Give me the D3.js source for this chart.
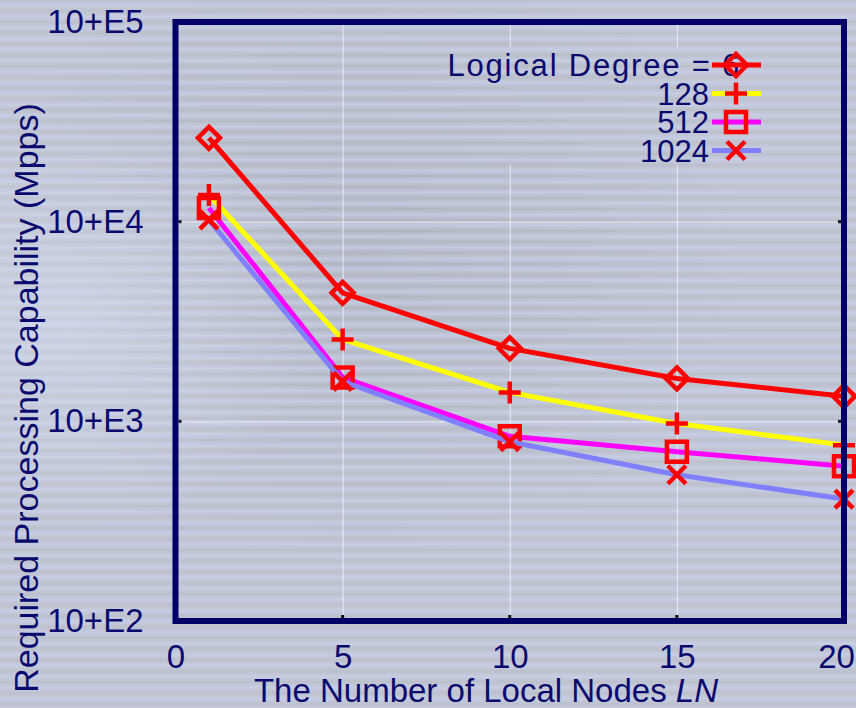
<!DOCTYPE html>
<html lang="en">
<head>
  <meta charset="UTF-8">
  <title>Required Processing Capability</title>
  <script src="https://d3js.org/d3.v7.min.js"></script>
  <style>
    body { margin: 0; background: #bcc0cc; }
    svg { display: block; }
    .lbl { font-family: "Liberation Sans", Arial, sans-serif; fill: #0a0a6e; }
  </style>
</head>
<body>
  <div id="chart"></div>
  <script>

    // data
    var nodes = [1, 5, 10, 15, 20];
    var degreeNames = ["Logical Degree = 6", "128", "512", "1024"];
    var deg6    = [26300, 4400, 2320, 1640, 1335];
    var deg128  = [13600, 2570, 1396, 975, 760];
    var deg512  = [11700, 1660, 841, 705, 596];
    var deg1024 = [10200, 1585, 790, 540, 408];
    var xTicks = [0, 5, 10, 15, 20];
    var yTicks = [100, 1000, 10000, 100000];
    var yTickLabels = ["10+E2", "10+E3", "10+E4", "10+E5"];

    var lineColors = ["#ff0000", "#ffff00", "#ff00ff", "#8080ff"];
    var markers = ["diamond", "plus", "square", "cross"];
    var seriesValues = [deg6, deg128, deg512, deg1024];

    var W = 856, H = 708;
    var pLeft = 175.5, pRight = 844, pTop = 22, pBottom = 621;

    var svg = d3.select("#chart").append("svg")
      .attr("width", W)
      .attr("height", H);

    var defs = svg.append("defs");

    // striped, blurry background
    var stripes = defs.append("pattern")
      .attr("id", "stripes")
      .attr("patternUnits", "userSpaceOnUse")
      .attr("width", 20).attr("height", 11);
    var sg = defs.append("linearGradient")
      .attr("id", "stripeGrad")
      .attr("x1", 0).attr("y1", 0).attr("x2", 0).attr("y2", 1);
    sg.append("stop").attr("offset", "0%").attr("stop-color", "#c9d1ea").attr("stop-opacity", 0.0);
    sg.append("stop").attr("offset", "50%").attr("stop-color", "#cdd6f0").attr("stop-opacity", 0.65);
    sg.append("stop").attr("offset", "100%").attr("stop-color", "#c9d1ea").attr("stop-opacity", 0.0);
    stripes.append("rect").attr("width", 20).attr("height", 11).attr("fill", "url(#stripeGrad)");

    var blob = defs.append("radialGradient").attr("id", "blob")
      .attr("cx", 0.42).attr("cy", 0.35).attr("r", 0.45);
    blob.append("stop").attr("offset", "0%").attr("stop-color", "#a9acb6").attr("stop-opacity", 0.6);
    blob.append("stop").attr("offset", "100%").attr("stop-color", "#a9acb6").attr("stop-opacity", 0);

    var glow = defs.append("radialGradient").attr("id", "glow")
      .attr("cx", 0.08).attr("cy", 0.45).attr("r", 0.3);
    glow.append("stop").attr("offset", "0%").attr("stop-color", "#dfe6f8").attr("stop-opacity", 0.4);
    glow.append("stop").attr("offset", "100%").attr("stop-color", "#dfe6f8").attr("stop-opacity", 0);

    svg.append("rect").attr("width", W).attr("height", H).attr("fill", "#bcc0cc");
    svg.append("rect").attr("width", W).attr("height", H).attr("fill", "url(#blob)");
    svg.append("rect").attr("width", W).attr("height", H).attr("fill", "url(#stripes)");
    svg.append("rect").attr("width", W).attr("height", H).attr("fill", "url(#glow)");

    var x = d3.scaleLinear().domain([0, 20]).range([pLeft, pRight]);
    var y = d3.scaleLog().domain([100, 100000]).range([pBottom, pTop]);

    // grid (hidden behind the key)
    defs.append("clipPath").attr("id", "gridClip")
      .append("path")
      .attr("d", "M" + pLeft + "," + pTop + "H" + pRight + "V" + pBottom + "H" + pLeft + "Z" +
                 "M440,47V165H770V47Z")
      .attr("clip-rule", "evenodd");

    var grid = svg.append("g").attr("clip-path", "url(#gridClip)");
    grid.append("g")
      .attr("transform", "translate(0," + pBottom + ")")
      .call(d3.axisBottom(x).tickValues([5, 10, 15]).tickFormat("").tickSize(-(pBottom - pTop)))
      .call(function(g) { g.select(".domain").remove(); })
      .selectAll("line").attr("stroke", "#e8ecf4").attr("stroke-width", 1);
    grid.append("g")
      .attr("transform", "translate(" + pLeft + ",0)")
      .call(d3.axisLeft(y).tickValues([1000, 10000]).tickFormat("").tickSize(-(pRight - pLeft)))
      .call(function(g) { g.select(".domain").remove(); })
      .selectAll("line").attr("stroke", "#e8ecf4").attr("stroke-width", 1);

    // small inner tick marks
    var ticks = svg.append("g");
    [5, 10, 15].forEach(function(v) {
      ticks.append("rect").attr("x", x(v) - 1.5).attr("y", pBottom - 6).attr("width", 3).attr("height", 3).attr("fill", "#111");
    });
    [1000, 10000].forEach(function(v) {
      ticks.append("rect").attr("x", pLeft + 3).attr("y", y(v) - 1.5).attr("width", 3).attr("height", 3).attr("fill", "#111");
      ticks.append("rect").attr("x", pRight - 6).attr("y", y(v) - 1.5).attr("width", 3).attr("height", 3).attr("fill", "#111");
    });

    // axes labels
    var xAxis = svg.append("g")
      .attr("transform", "translate(0," + pBottom + ")")
      .call(d3.axisBottom(x).tickValues(xTicks).tickSize(0).tickPadding(24));
    xAxis.select(".domain").remove();
    xAxis.selectAll("text")
      .attr("class", "lbl")
      .attr("fill", null)
      .style("font-size", "33px")
      .attr("dx", function(d) { return d === 20 ? -8 : 0; });

    var yAxis = svg.append("g")
      .attr("transform", "translate(" + pLeft + ",0)")
      .call(d3.axisLeft(y).tickValues(yTicks).tickSize(0).tickPadding(32)
        .tickFormat(function(d, i) { return yTickLabels[i]; }));
    yAxis.select(".domain").remove();
    yAxis.selectAll("text")
      .attr("class", "lbl")
      .attr("fill", null)
      .style("font-size", "33px");

    svg.append("text")
      .attr("class", "lbl")
      .attr("x", 486).attr("y", 702)
      .attr("text-anchor", "middle")
      .style("font-size", "33px")
      .text("The Number of Local Nodes ")
      .append("tspan").attr("font-style", "italic").text("LN");

    svg.append("text")
      .attr("class", "lbl")
      .attr("transform", "translate(38,398) rotate(-90)")
      .attr("text-anchor", "middle")
      .style("font-size", "34px")
      .text("Required Processing Capability (Mpps)");

    // markers
    function markerPath(type) {
      var s = 11;
      if (type === "diamond") return "M0," + (-s) + "L" + s + ",0L0," + s + "L" + (-s) + ",0Z";
      if (type === "plus") return "M" + (-s) + ",0H" + s + "M0," + (-s) + "V" + s;
      if (type === "square") return "M-10,-10H10V10H-10Z";
      return "M-9,-9L9,9M-9,9L9,-9";
    }

    var line = d3.line()
      .x(function(d, i) { return x(nodes[i]); })
      .y(function(d) { return y(d); });

    seriesValues.forEach(function(vals, k) {
      var g = svg.append("g");
      g.append("path")
        .attr("d", line(vals))
        .attr("fill", "none")
        .attr("stroke", lineColors[k])
        .attr("stroke-width", 5)
        .attr("stroke-linejoin", "round");
      g.selectAll("path.m").data(vals).enter().append("path")
        .attr("class", "m")
        .attr("transform", function(d, i) { return "translate(" + x(nodes[i]) + "," + y(d) + ")"; })
        .attr("d", markerPath(markers[k]))
        .attr("fill", "none")
        .attr("stroke", "#ff0000")
        .attr("stroke-width", 4.5);
    });

    // legend
    var rowY = [65, 93.5, 122, 150.5];
    var key = svg.append("g");
    degreeNames.forEach(function(name, k) {
      key.append("text")
        .attr("class", "lbl")
        .attr("x", k === 0 ? 741 : 709)
        .attr("y", rowY[k])
        .attr("dy", "0.36em")
        .attr("text-anchor", "end")
        .style("font-size", "31px")
        .style("letter-spacing", k === 0 ? "1.8px" : "0px")
        .text(name);
      key.append("line")
        .attr("x1", 712).attr("x2", 761)
        .attr("y1", rowY[k]).attr("y2", rowY[k])
        .attr("stroke", lineColors[k])
        .attr("stroke-width", 5);
      key.append("path")
        .attr("transform", "translate(736," + rowY[k] + ")")
        .attr("d", markerPath(markers[k]))
        .attr("fill", "none")
        .attr("stroke", "#ff0000")
        .attr("stroke-width", 4.5);
    });

    // frame
    svg.append("rect")
      .attr("x", pLeft).attr("y", pTop)
      .attr("width", pRight - pLeft).attr("height", pBottom - pTop)
      .attr("fill", "none")
      .attr("stroke", "#000066")
      .attr("stroke-width", 6);

  </script>
</body>
</html>
